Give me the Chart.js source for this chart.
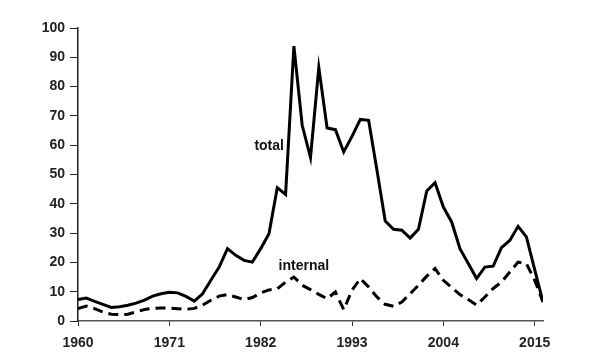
<!DOCTYPE html>
<html>
<head>
<meta charset="utf-8">
<script src="https://cdn.jsdelivr.net/npm/chart.js@4/dist/chart.umd.min.js"></script>
<style>
  html, body { margin: 0; padding: 0; background: #fff; }
  #wrap { width: 600px; height: 360px; position: relative; }
</style>
</head>
<body>
<div id="wrap"><canvas id="c" width="600" height="360"></canvas></div>
<script>
const years = [1960,1961,1962,1963,1964,1965,1966,1967,1968,1969,1970,1971,1972,1973,1974,1975,1976,1977,1978,1979,1980,1981,1982,1983,1984,1985,1986,1987,1988,1989,1990,1991,1992,1993,1994,1995,1996,1997,1998,1999,2000,2001,2002,2003,2004,2005,2006,2007,2008,2009,2010,2011,2012,2013,2014,2015,2016];
const totalValues = [7.3,7.8,6.7,5.7,4.6,4.9,5.4,6.1,7.1,8.5,9.3,9.8,9.6,8.4,6.8,9.3,13.9,18.4,24.7,22.4,20.7,20.1,24.7,29.8,45.5,43.2,93.8,66.8,55.8,86.5,65.9,65.3,57.7,63.0,68.8,68.5,51.5,34.1,31.3,31.0,28.3,31.3,44.4,47.2,38.9,33.8,24.7,19.6,14.5,18.4,18.7,25.0,27.5,32.3,28.7,17.5,6.5];
const internalValues = [4.2,5.1,4.2,3.1,2.3,2.2,2.3,3.1,3.9,4.3,4.4,4.4,4.2,4.0,4.3,5.4,7.1,8.5,9.0,8.2,7.3,8.0,9.6,10.6,11.0,13.3,15.0,12.2,10.7,9.1,7.6,9.9,3.9,10.5,14.5,11.6,8.2,5.7,5.0,6.5,9.3,12.2,15.3,17.9,13.9,11.4,9.0,7.3,5.4,8.2,11.1,13.3,16.7,20.1,19.6,13.9,6.5];
const xTickValues = [1960,1971,1982,1993,2004,2015];
const seriesLabels = ["total", "internal"];
const labelAnchors = [
  { text: "total", x: 1984.8, y: 59.7, align: "right" },
  { text: "internal", x: 1987.2, y: 18.7, align: "center" }
];

const FONT = "'Liberation Sans', Arial, sans-serif";
const toPoints = (vals) => years.map((y, i) => ({ x: y, y: vals[i] }));

const textLabels = {
  id: 'textLabels',
  afterDatasetsDraw(chart) {
    const { ctx, scales } = chart;
    ctx.save();
    ctx.font = "bold 14px " + FONT;
    ctx.fillStyle = "#111";
    ctx.textBaseline = "middle";
    labelAnchors.forEach(a => {
      ctx.textAlign = a.align;
      ctx.fillText(a.text, scales.x.getPixelForValue(a.x), scales.y.getPixelForValue(a.y));
    });
    ctx.restore();
  }
};

new Chart(document.getElementById('c'), {
  type: 'line',
  data: {
    datasets: [
      { label: seriesLabels[0], data: toPoints(totalValues), borderColor: '#000', borderWidth: 3, pointRadius: 0, tension: 0, fill: false },
      { label: seriesLabels[1], data: toPoints(internalValues), borderColor: '#000', borderWidth: 3, borderDash: [10, 6], pointRadius: 0, tension: 0, fill: false }
    ]
  },
  options: {
    responsive: false,
    animation: false,
    devicePixelRatio: 1,
    layout: { padding: { left: 0, right: 57, top: 28, bottom: 0 } },
    plugins: { legend: { display: false }, tooltip: { enabled: false } },
    scales: {
      x: {
        type: 'linear',
        min: 1960,
        max: 2016,
        afterBuildTicks: (s) => { s.ticks = xTickValues.map(v => ({ value: v })); },
        afterFit: (s) => { s.height = 39; },
        grid: { display: true, drawOnChartArea: false, drawTicks: true, tickLength: 5, color: '#333' },
        border: { display: true, color: '#555', width: 1.5 },
        ticks: { color: '#222', font: { family: FONT, size: 14, weight: 'bold' }, padding: 9, maxRotation: 0, autoSkip: false, callback: (v) => String(v) }
      },
      y: {
        min: 0,
        max: 100,
        afterFit: (s) => { s.width = 78; },
        grid: { display: true, drawOnChartArea: false, drawTicks: true, tickLength: 8, color: '#222' },
        border: { display: true, color: '#222', width: 1.5 },
        ticks: { stepSize: 10, color: '#222', font: { family: FONT, size: 14, weight: 'bold' }, padding: 5, callback: (v) => String(v) }
      }
    }
  },
  plugins: [textLabels]
});
</script>
</body>
</html>
